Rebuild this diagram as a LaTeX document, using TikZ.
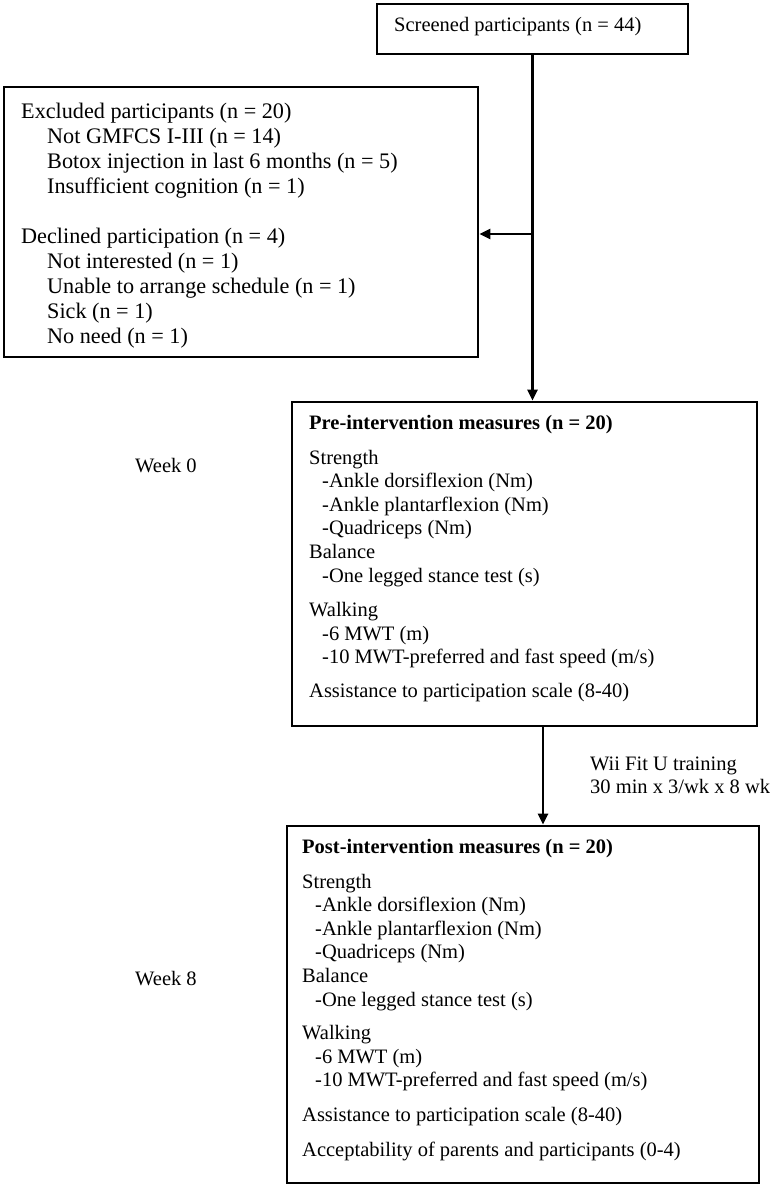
\documentclass[tikz,border=0pt]{standalone}
\usepackage{fontspec}
\setmainfont{Liberation Serif}
\usetikzlibrary{arrows.meta}
\begin{document}
\begin{tikzpicture}[x=1pt,y=-1pt,
  box/.style={draw, line width=2.8pt, inner sep=0pt},
  txt/.style={anchor=base west, inner sep=0pt, font=\fontsize{20.5}{23.6}\selectfont},
  arr/.style={line width=2.8pt, -{Triangle[length=11pt,width=10pt]}}]
\useasboundingbox (0,0) rectangle (773,1188);
% boxes
\node[box, minimum width=311pt, minimum height=50pt] (scr) at (532.5,29) {};
\node[box, minimum width=474pt, minimum height=270pt] (exc) at (241,222) {};
\node[box, minimum width=465pt, minimum height=324pt] (pre) at (524.5,564) {};
\node[box, minimum width=472pt, minimum height=357pt] (post) at (523,1004.5) {};
% texts
\node[txt] (scrt) at (394,32) {Screened participants (n = 44)};
\node[txt, font=\fontsize{22.2}{25.1}\selectfont] (exct) at (21,118) {\begin{tabular}[t]{@{}l@{}}
Excluded participants (n = 20)\\
\hspace*{26pt}Not GMFCS I-III (n = 14)\\
\hspace*{26pt}Botox injection in last 6 months (n = 5)\\
\hspace*{26pt}Insufficient cognition (n = 1)\\[25.1pt]
Declined participation (n = 4)\\
\hspace*{26pt}Not interested (n = 1)\\
\hspace*{26pt}Unable to arrange schedule (n = 1)\\
\hspace*{26pt}Sick (n = 1)\\
\hspace*{26pt}No need (n = 1)
\end{tabular}};
\node[txt] (pret) at (309,429.5) {\begin{tabular}[t]{@{}l@{}}
\textbf{Pre-intervention measures (n = 20)}\\[11pt]
Strength\\
\hspace*{13pt}-Ankle dorsiflexion (Nm)\\
\hspace*{13pt}-Ankle plantarflexion (Nm)\\
\hspace*{13pt}-Quadriceps (Nm)\\
Balance\\
\hspace*{13pt}-One legged stance test (s)\\[11pt]
Walking\\
\hspace*{13pt}-6 MWT (m)\\
\hspace*{13pt}-10 MWT-preferred and fast speed (m/s)\\[10pt]
Assistance to participation scale (8-40)
\end{tabular}};
\node[txt] (postt) at (302,853.5) {\begin{tabular}[t]{@{}l@{}}
\textbf{Post-intervention measures (n = 20)}\\[11pt]
Strength\\
\hspace*{13pt}-Ankle dorsiflexion (Nm)\\
\hspace*{13pt}-Ankle plantarflexion (Nm)\\
\hspace*{13pt}-Quadriceps (Nm)\\
Balance\\
\hspace*{13pt}-One legged stance test (s)\\[10pt]
Walking\\
\hspace*{13pt}-6 MWT (m)\\
\hspace*{13pt}-10 MWT-preferred and fast speed (m/s)\\[11pt]
Assistance to participation scale (8-40)\\[11pt]
Acceptability of parents and participants (0-4)
\end{tabular}};
\node[txt] (week0) at (135,472) {Week 0};
\node[txt] (week8) at (135,985) {Week 8};
\node[txt] (wii) at (590,770) {\begin{tabular}[t]{@{}l@{}}
Wii Fit U training\\
30 min x 3/wk x 8 wk
\end{tabular}};
% connectors
\coordinate (j) at (533,234);
\coordinate (p1) at (543,0);
\draw[arr] (scr.south) -- (scr.south |- pre.north);
\draw[arr] (j) -- (j -| exc.east);
\draw[arr] (p1 |- pre.south) -- (p1 |- post.north);
\end{tikzpicture}
\end{document}
